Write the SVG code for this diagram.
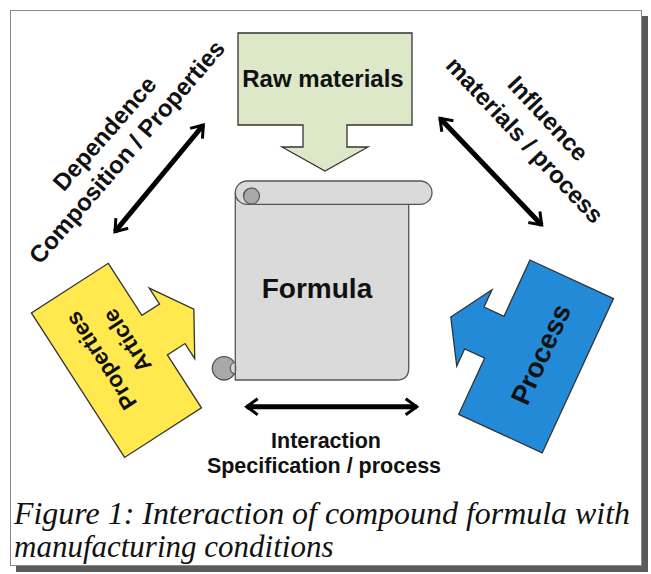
<svg xmlns="http://www.w3.org/2000/svg" width="651" height="574" viewBox="0 0 651 574">
<defs>
<style>
.lbl{font-family:"Liberation Sans",Arial,sans-serif;font-weight:bold;fill:#111;text-anchor:middle}
.cap{font-family:"Liberation Serif","Times New Roman",serif;font-style:italic;font-size:31px;fill:#111}
.conn{fill:none;stroke:#000;stroke-width:5;marker-start:url(#ah);marker-end:url(#ah)}
.edge{stroke:#333;stroke-width:1.3;stroke-linejoin:miter}
.scroll{fill:#dadada;stroke:#555;stroke-width:1.3}
</style>
<marker id="ah" viewBox="-14 -10 17 20" refX="0" refY="0" markerWidth="17" markerHeight="20" markerUnits="userSpaceOnUse" orient="auto-start-reverse">
<path d="M-11,-8 L0,0 L-11,8" fill="none" stroke="#000" stroke-width="3"/>
</marker>
</defs>
<rect x="0" y="0" width="651" height="574" fill="#fff"/>
<!-- frame with shadow -->
<rect x="642" y="16" width="6" height="556" fill="#5a5a5a"/>
<rect x="16" y="566" width="632" height="6" fill="#5a5a5a"/>
<rect x="10.5" y="10.5" width="631" height="555" fill="#fff" stroke="#8a8a8a" stroke-width="1"/>

<g id="raw-materials">
<polygon class="edge" fill="#dce8c8" points="238,33 412,33 412,125 347,125 347,147 368,147 325,171 282,147 303,147 303,125 238,125"/>
<text class="lbl" x="323" y="87" font-size="24">Raw materials</text>
</g>

<g id="formula">
<path class="scroll" d="M235.3,193 L235.3,380 L397,380 Q408.7,380 408.7,368.3 L408.7,204"/>
<rect class="scroll" x="235.3" y="181" width="196.7" height="23.3" rx="11.7" ry="11.7"/>
<circle cx="251.5" cy="196" r="8" fill="#a9a9a9" stroke="#555" stroke-width="1.2"/>
<path d="M243.5,196 A8,8 0 0 1 251.5,188" fill="none" stroke="#555" stroke-width="1.2"/>
<circle cx="224" cy="368.3" r="11.7" fill="#a9a9a9" stroke="#555" stroke-width="1.3"/>
<path d="M235.3,362.5 A5.8,5.8 0 0 0 235.3,374 Z" fill="#dadada" stroke="#555" stroke-width="1.2"/>
<text class="lbl" x="317" y="298" font-size="28">Formula</text>
</g>

<g id="article-properties">
<polygon class="edge" fill="#ffe94f" transform="translate(108.3,263.3) rotate(57.2)" points="0,0 62,0 62,-21 43,-21 85,-47 127,-21 109,-21 109,0 172,0 172,91.5 0,91.5"/>
<text class="lbl" font-size="22.5" transform="translate(100.8,360.8) rotate(-122.8)" x="0" y="8">Properties</text>
<text class="lbl" font-size="22.5" transform="translate(126.7,340.8) rotate(-122.8)" x="0" y="8">Article</text>
</g>

<g id="process">
<polygon class="edge" fill="#238ad8" transform="translate(530,260) rotate(114.8)" points="0,0 62,0 62,22 43,22 85,48 127,22 108,22 108,0 170,0 170,-92 0,-92"/>
<text class="lbl" font-size="27.5" transform="translate(540.8,354.2) rotate(-65.4)" x="0" y="9.5">Process</text>
</g>

<g id="connectors">
<path class="conn" d="M115,231.7 L203.3,125"/>
<path class="conn" d="M440,118.3 L541.7,225"/>
<path class="conn" d="M246.7,406.7 L416.7,406.7"/>
</g>

<g id="labels">
<text class="lbl" font-size="24" transform="translate(104.3,133.3) rotate(-48.8)" x="0" y="8.5">Dependence</text>
<text class="lbl" font-size="24" transform="translate(126.7,151.7) rotate(-49.3)" x="0" y="8.5">Composition / Properties</text>
<text class="lbl" font-size="24" transform="translate(548.3,118.3) rotate(47.3)" x="0" y="8.5">Influence</text>
<text class="lbl" font-size="24" transform="translate(525,140) rotate(46.8)" x="0" y="8.5">materials / process</text>
<text class="lbl" font-size="21.5" x="326" y="448">Interaction</text>
<text class="lbl" font-size="21.5" x="324" y="473">Specification / process</text>
</g>

<g id="caption">
<text class="cap" x="14" y="524" textLength="616" lengthAdjust="spacingAndGlyphs">Figure 1: Interaction of compound formula with</text>
<text class="cap" x="14" y="557">manufacturing conditions</text>
</g>
</svg>
